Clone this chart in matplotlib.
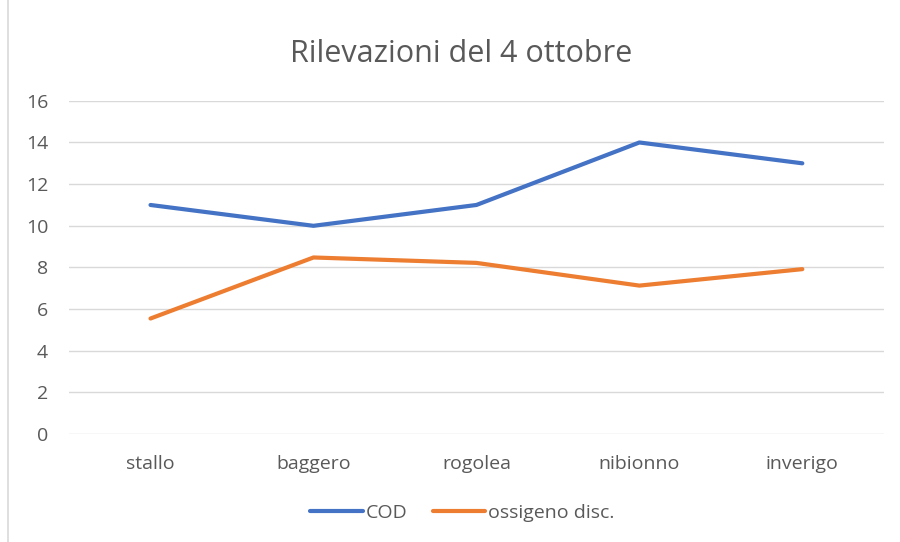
import matplotlib
matplotlib.use("Agg")
import matplotlib.pyplot as plt
from matplotlib.patches import Rectangle

# Data
sites = ["stallo", "baggero", "rogolea", "nibionno", "inverigo"]
cod = [11, 10, 11, 14, 13]
ossigeno = [5.55, 8.48, 8.22, 7.13, 7.92]
y_ticks = [0, 2, 4, 6, 8, 10, 12, 14, 16]

plt.rcParams['font.family'] = ['Open Sans', 'DejaVu Sans']

fig = plt.figure(figsize=(9, 5.42), dpi=100)
ax = fig.add_axes([0.0767, 0.199, 0.9053, 0.615])

x = range(len(sites))
ax.plot(x, cod, color="#4472C4", lw=3, solid_capstyle="round", solid_joinstyle="round", label="COD")
ax.plot(x, ossigeno, color="#ED7D31", lw=3, solid_capstyle="round", solid_joinstyle="round", label="ossigeno disc.")

ax.set_xlim(-0.5, len(sites) - 0.5)
ax.set_ylim(0, 16)
ax.set_yticks(y_ticks)
ax.set_xticks(list(x))
ax.set_xticklabels(sites)
ax.grid(axis="y", color="#D9D9D9", lw=1)
ax.set_axisbelow(True)
for s in ax.spines.values():
    s.set_visible(False)
ax.tick_params(length=0, labelsize=14, colors="#595959")
ax.tick_params(axis="y", pad=15)
ax.tick_params(axis="x", pad=15)

fig.text(0.512, 0.9, "Rilevazioni del 4 ottobre", ha="center", va="center",
         fontsize=22, color="#595959")

leg = fig.legend(loc="center", bbox_to_anchor=(0.514, 0.053), ncol=2, frameon=False,
                 fontsize=14, handlelength=2.7, handletextpad=0.15, columnspacing=1.3)
for t in leg.get_texts():
    t.set_color("#595959")

# chart border
fig.patches.append(Rectangle((0.009, -0.01), 1.2, 1.2, transform=fig.transFigure,
                             fill=False, edgecolor="#D9D9D9", lw=1.2))

fig.savefig("out.png", dpi=100)
